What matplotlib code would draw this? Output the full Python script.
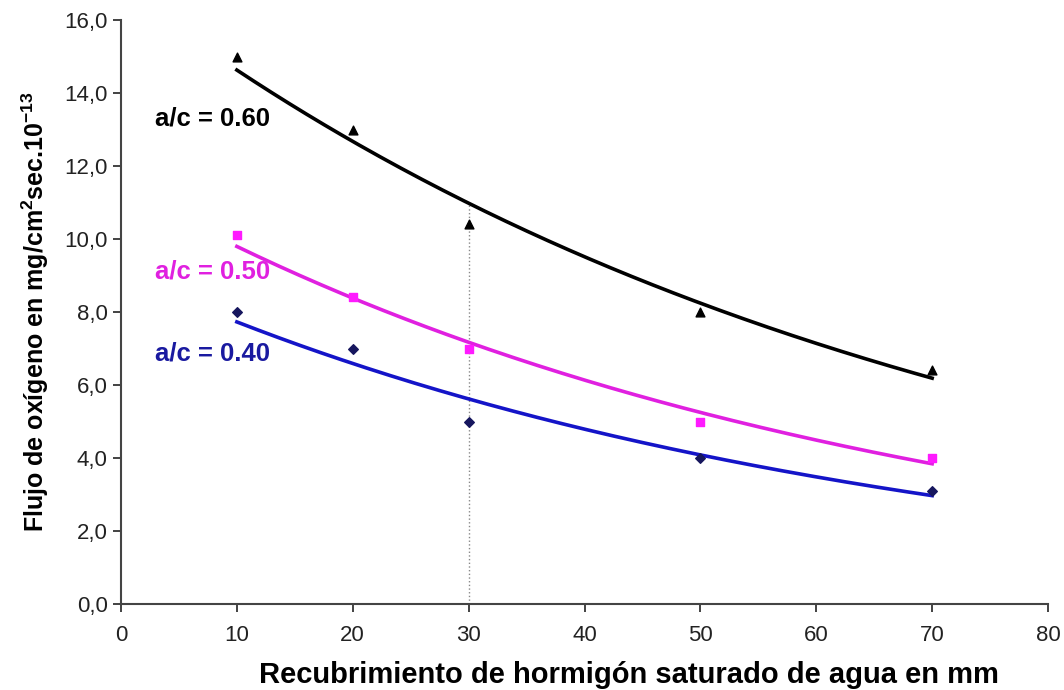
import numpy as np
from matplotlib import pyplot as plt
from matplotlib.ticker import FuncFormatter, MultipleLocator

plt.rcParams['font.family'] = ['Liberation Sans', 'DejaVu Sans']
plt.rcParams['mathtext.default'] = 'regular'

recubrimiento = [10, 20, 30, 50, 70]
flujo_060 = [15.0, 13.0, 10.4, 8.0, 6.4]
flujo_050 = [10.1, 8.4, 7.0, 5.0, 4.0]
flujo_040 = [8.0, 7.0, 5.0, 4.0, 3.1]

series = [
    ('a/c = 0.60', flujo_060, '^', 'black', 'black', 'black', 13.3),
    ('a/c = 0.50', flujo_050, 's', '#ff1aff', '#e020e0', '#e020e0', 9.1),
    ('a/c = 0.40', flujo_040, 'D', '#16165e', '#1414c8', '#1a1aa0', 6.85),
]

fig = plt.figure(figsize=(10.64, 6.9), dpi=100)
ax = fig.add_axes([0.1137, 0.1246, 0.8713, 0.8464])

x = np.array(recubrimiento, dtype=float)
xs = np.linspace(10, 70, 200)
fits = {}
for label, vals, mk, mcol, lcol, tcol, ty in series:
    # exponential trendline (like Excel)
    b, a = np.polyfit(x, np.log(vals), 1)
    fits[label] = (a, b)
    ax.plot(xs, np.exp(a + b * xs), color=lcol, linewidth=2.6, zorder=2)
    ax.scatter(x, vals, marker=mk, s=40 if mk != 'D' else 24, color=mcol, zorder=3)
    ax.text(2.9, ty, label, color=tcol, fontsize=18.5, fontweight='bold',
            ha='left', va='center')

# thin vertical line at 30 mm up to the 0.60 trendline
a, b = fits['a/c = 0.60']
ax.plot([30, 30], [0, np.exp(a + b * 30)], color='#888888', linewidth=1.0,
        linestyle=':', zorder=1)

ax.set_xlim(0, 80)
ax.set_ylim(0, 16)
ax.xaxis.set_major_locator(MultipleLocator(10))
ax.yaxis.set_major_locator(MultipleLocator(2))
ax.yaxis.set_major_formatter(FuncFormatter(lambda v, p: f'{v:.1f}'.replace('.', ',')))

for s in ['top', 'right']:
    ax.spines[s].set_visible(False)
for s in ['left', 'bottom']:
    ax.spines[s].set_color('#444444')
    ax.spines[s].set_linewidth(1.5)
ax.tick_params(axis='both', labelsize=16, colors='#222222', length=6, width=1.2)
ax.tick_params(axis='x', pad=9)

ax.set_xlabel('Recubrimiento de hormigón saturado de agua en mm', fontsize=21,
              fontweight='bold')
ax.xaxis.set_label_coords(0.548, -0.098)
ax.set_ylabel('Flujo de oxígeno en mg/cm$^{2}$sec.10$^{-13}$', fontsize=18,
              fontweight='bold', labelpad=10)

plt.savefig('out.png', dpi=100)
